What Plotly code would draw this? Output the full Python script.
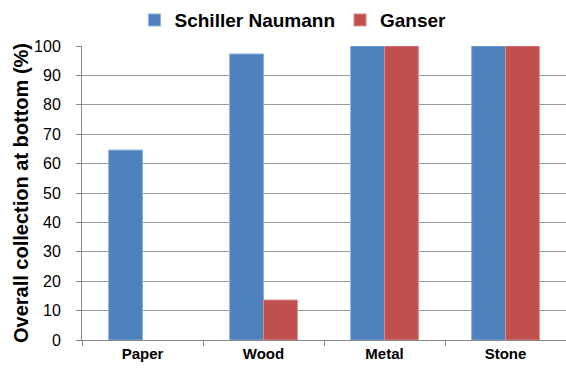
import plotly.graph_objects as go

materials = ["Paper", "Wood", "Metal", "Stone"]
schiller_naumann = [64.6, 97.3, 100, 100]
ganser = [None, 13.6, 100, 100]  # no Ganser result for paper
y_ticks = list(range(0, 101, 10))

font_family = "Liberation Sans, Arial, sans-serif"

fig = go.Figure()
fig.add_trace(go.Bar(
    x=materials, y=schiller_naumann, name="Schiller Naumann",
    marker=dict(color="#4F81BD", line=dict(color="#8EB0DC", width=1)),
))
fig.add_trace(go.Bar(
    x=materials, y=ganser, name="Ganser",
    marker=dict(color="#C0504D", line=dict(color="#D98C8A", width=1)),
))

fig.update_layout(
    width=566, height=369,
    margin=dict(l=82, r=0, t=46, b=29),
    paper_bgcolor="white", plot_bgcolor="white",
    barmode="group", bargap=0.44, bargroupgap=0,
    font=dict(family=font_family, color="black"),
    legend=dict(
        orientation="h", x=0.436, xanchor="center", y=1.088, yanchor="middle",
        font=dict(size=19, family=font_family, weight="bold"),
        itemwidth=30, traceorder="normal",
    ),
    xaxis=dict(
        type="category", tickson="boundaries",
        ticks="outside", ticklen=5, tickcolor="#888888",
        showline=True, linecolor="#888888", linewidth=1,
        showgrid=False,
        tickfont=dict(size=15, family=font_family, weight="bold"),
    ),
    yaxis=dict(
        range=[0, 100], tickvals=y_ticks,
        ticks="outside", ticklen=5, tickcolor="#888888",
        ticklabelstandoff=12,
        showline=True, linecolor="#888888", linewidth=1,
        showgrid=True, gridcolor="#999999", gridwidth=1,
        tickfont=dict(size=16, family=font_family),
        title=dict(text="Overall collection at bottom (%)",
                   font=dict(size=20, family=font_family, weight="bold"),
                   standoff=0),
        zeroline=False,
    ),
)

fig.write_html("out.html")
